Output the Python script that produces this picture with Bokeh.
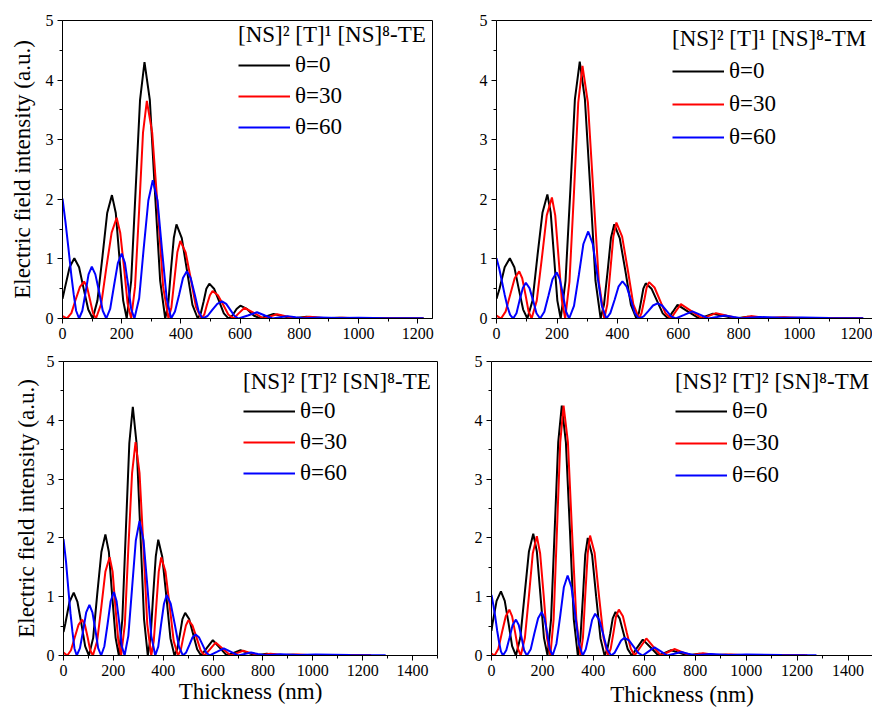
from bokeh.plotting import figure
from bokeh.models import Range1d, FixedTicker, Legend, LegendItem, LinearAxis
from bokeh.layouts import row, column
from bokeh.embed import file_html
from bokeh.resources import INLINE

FONT = "Liberation Serif"

# ---------------- data ----------------
angle_labels = ["θ=0", "θ=30", "θ=60"]
panel_titles = ["[NS]² [T]¹ [NS]⁸-TE", "[NS]² [T]¹ [NS]⁸-TM",
                "[NS]² [T]² [SN]⁸-TE", "[NS]² [T]² [SN]⁸-TM"]
x_ticks_top = [0, 200, 400, 600, 800, 1000, 1200]
x_minor_top = [100, 300, 500, 700, 900, 1100]
x_ticks_bottom = [0, 200, 400, 600, 800, 1000, 1200, 1400]
x_minor_bottom = [100, 300, 500, 700, 900, 1100, 1300, 1500]
y_ticks = [0, 1, 2, 3, 4, 5]
y_minor = [0.5, 1.5, 2.5, 3.5, 4.5]

# top-left: [NS]2 [T]1 [NS]8 - TE
tl_x0 = [0, 8, 24, 40, 56, 71, 87, 102, 118, 135, 151, 167, 180, 192, 205, 217,
         232, 247, 262, 277, 295, 312, 330, 347, 357, 366, 376, 385, 403, 421, 439, 457,
         467, 477, 486, 496, 512, 529, 545, 561, 574, 588, 601, 623, 646, 668,
         690, 713, 745, 775, 825, 880, 935, 990, 1100, 1220]
tl_y0 = [0.33, 0.51, 0.86, 1.01, 0.86, 0.51, 0.15, 0, 0.30, 1.04, 1.77, 2.07, 1.77, 1.04, 0.30, 0,
         0.63, 2.15, 3.67, 4.30, 3.67, 2.15, 0.63, 0, 0.23, 0.79, 1.35, 1.58, 1.35, 0.79, 0.23, 0,
         0.085, 0.29, 0.5, 0.585, 0.5, 0.29, 0.085, 0, 0.05, 0.16, 0.215, 0.16, 0.05, 0,
         0.04, 0.077, 0.04, 0, 0.03, 0.005, 0.012, 0.004, 0.003, 0.002]
tl_x30 = [0, 15, 30, 44, 59, 73, 83, 93, 103, 113, 131, 148, 166, 183, 195, 208, 220, 232,
          245, 259, 272, 285, 303, 322, 340, 358, 368, 378, 388, 398, 416, 434, 451, 469,
          479, 488, 498, 507, 525, 543, 560, 578, 596, 615, 648, 680,
          702, 725, 758, 790, 835, 890, 945, 1000, 1100, 1220]
tl_y30 = [0.04, 0, 0.09, 0.31, 0.53, 0.62, 0.53, 0.31, 0.09, 0, 0.25, 0.85, 1.44, 1.69, 1.44, 0.85, 0.25, 0,
          0.53, 1.83, 3.12, 3.65, 3.12, 1.83, 0.53, 0, 0.19, 0.65, 1.11, 1.30, 1.11, 0.65, 0.19, 0,
          0.067, 0.23, 0.39, 0.46, 0.39, 0.23, 0.067, 0, 0.09, 0.18, 0.09, 0,
          0.035, 0.07, 0.035, 0, 0.03, 0.005, 0.012, 0.004, 0.004, 0.002]
tl_x60 = [0, 10, 20, 30, 38, 46, 56, 67, 78, 88, 99, 111, 124, 136, 148,
          161, 174, 187, 200, 211, 222, 232, 243, 259, 274, 290, 305, 321, 336, 352, 367,
          380, 394, 407, 420, 433, 447, 460, 473, 490, 506, 523, 539, 553, 567, 581, 595,
          626, 657, 684, 710, 735, 760, 788, 815, 870, 930, 1000, 1100, 1220]
tl_y60 = [2.01, 1.62, 1.18, 0.72, 0.40, 0.13, 0, 0.13, 0.44, 0.74, 0.87, 0.74, 0.44, 0.13, 0,
          0.16, 0.55, 0.93, 1.09, 0.93, 0.55, 0.16, 0, 0.34, 1.16, 1.98, 2.32, 1.98, 1.16, 0.34, 0,
          0.116, 0.40, 0.68, 0.795, 0.68, 0.40, 0.116, 0, 0.042, 0.144, 0.245, 0.287, 0.245, 0.144, 0.042, 0,
          0.05, 0.105, 0.05, 0, 0.02, 0.04, 0.02, 0.003, 0.018, 0.008, 0.012, 0.006, 0.004]

# top-right: [NS]2 [T]1 [NS]8 - TM
tr_x0 = [0, 10, 27, 44, 59, 73, 88, 102, 119, 135, 152, 168, 179, 190, 201, 212,
         228, 244, 259, 275, 292, 310, 327, 344, 355, 367, 378, 389, 407, 426, 444, 462,
         470, 478, 485, 493, 512, 530, 549, 567, 582, 598, 634, 670,
         692, 715, 752, 790, 830, 880, 940, 1000, 1100, 1210]
tr_y0 = [0.33, 0.5, 0.86, 1.01, 0.86, 0.51, 0.15, 0, 0.30, 1.04, 1.78, 2.08, 1.78, 1.04, 0.30, 0,
         0.63, 2.16, 3.68, 4.31, 3.68, 2.16, 0.63, 0, 0.23, 0.79, 1.35, 1.58, 1.35, 0.79, 0.23, 0,
         0.086, 0.30, 0.50, 0.59, 0.50, 0.30, 0.086, 0, 0.11, 0.23, 0.11, 0,
         0.04, 0.08, 0.04, 0, 0.03, 0.005, 0.012, 0.004, 0.004, 0.002]
tr_x30 = [0, 15, 30, 45, 60, 75, 85, 96, 106, 116, 133, 150, 166, 183, 194, 205, 216, 227,
          241, 256, 270, 284, 302, 320, 338, 356, 366, 376, 386, 396, 415, 434, 452, 471,
          479, 488, 496, 504, 522, 540, 558, 576, 592, 609, 645, 680,
          702, 725, 762, 800, 840, 890, 950, 1010, 1100, 1210]
tr_y30 = [0.05, 0, 0.115, 0.395, 0.675, 0.79, 0.675, 0.395, 0.115, 0, 0.30, 1.02, 1.73, 2.03, 1.73, 1.02, 0.30, 0,
          0.62, 2.12, 3.62, 4.24, 3.62, 2.12, 0.62, 0, 0.235, 0.805, 1.375, 1.61, 1.375, 0.805, 0.235, 0,
          0.089, 0.305, 0.52, 0.61, 0.52, 0.305, 0.089, 0, 0.12, 0.24, 0.12, 0,
          0.045, 0.09, 0.045, 0, 0.04, 0.01, 0.02, 0.008, 0.006, 0.003]
tr_x60 = [0, 9, 18, 27, 36, 45, 55, 66, 76, 87, 97, 109, 121, 132, 144,
          158, 172, 185, 199, 209, 220, 230, 240, 256, 272, 287, 303, 318, 333, 348, 363,
          376, 390, 403, 416, 430, 444, 457, 471, 486, 502, 517, 532, 547, 562, 577, 592,
          620, 647, 674, 700, 728, 755, 783, 810, 870, 940, 1010, 1100, 1212]
tr_y60 = [1.01, 0.84, 0.62, 0.40, 0.20, 0.06, 0, 0.088, 0.30, 0.51, 0.60, 0.51, 0.30, 0.088, 0,
          0.113, 0.39, 0.66, 0.775, 0.66, 0.39, 0.113, 0, 0.213, 0.73, 1.25, 1.46, 1.25, 0.73, 0.213, 0,
          0.091, 0.31, 0.534, 0.625, 0.534, 0.31, 0.091, 0, 0.037, 0.128, 0.218, 0.255, 0.218, 0.128, 0.037, 0,
          0.06, 0.12, 0.06, 0, 0.025, 0.05, 0.025, 0.005, 0.025, 0.012, 0.018, 0.01, 0.006]

# bottom-left: [NS]2 [T]2 [SN]8 - TE
bl_x0 = [0, 7, 24, 41, 56, 72, 87, 102, 119, 135, 152, 168, 182, 195, 209, 222,
         236, 250, 264, 278, 293, 308, 323, 338, 349, 359, 370, 380, 396, 413, 429, 445,
         456, 467, 477, 488, 504, 520, 536, 552, 575, 599, 627, 655,
         682, 710, 740, 770, 815, 865, 920, 980, 1100, 1230]
bl_y0 = [0.40, 0.535, 0.91, 1.07, 0.91, 0.535, 0.156, 0, 0.30, 1.03, 1.76, 2.06, 1.76, 1.03, 0.30, 0,
         0.62, 2.12, 3.61, 4.23, 3.61, 2.12, 0.62, 0, 0.29, 0.985, 1.68, 1.97, 1.68, 0.985, 0.29, 0,
         0.106, 0.36, 0.62, 0.725, 0.62, 0.36, 0.106, 0, 0.13, 0.26, 0.13, 0,
         0.045, 0.09, 0.045, 0, 0.03, 0.005, 0.012, 0.004, 0.004, 0.002]
bl_x30 = [0, 15, 30, 45, 60, 75, 86, 97, 107, 118, 135, 152, 168, 185, 197, 208, 220, 231,
          246, 260, 275, 289, 305, 321, 336, 352, 362, 372, 382, 392, 409, 426, 442, 459,
          470, 480, 491, 501, 517, 534, 550, 566, 588, 610, 640, 670,
          695, 720, 752, 785, 830, 880, 940, 1000, 1100, 1234]
bl_y30 = [0.05, 0, 0.089, 0.305, 0.52, 0.61, 0.52, 0.305, 0.089, 0, 0.244, 0.835, 1.426, 1.67, 1.426, 0.835, 0.244, 0,
          0.53, 1.815, 3.10, 3.63, 3.10, 1.815, 0.53, 0, 0.244, 0.835, 1.426, 1.67, 1.426, 0.835, 0.244, 0,
          0.088, 0.30, 0.512, 0.60, 0.512, 0.30, 0.088, 0, 0.11, 0.22, 0.11, 0,
          0.04, 0.08, 0.04, 0, 0.03, 0.008, 0.015, 0.006, 0.005, 0.003]
bl_x60 = [0, 10, 20, 28, 36, 44, 53, 66, 79, 91, 104, 116, 128, 139, 151,
          164, 177, 189, 202, 213, 224, 234, 245, 260, 275, 290, 305, 321, 337, 352, 368,
          380, 391, 403, 414, 430, 447, 463, 479, 492, 505, 517, 530, 544, 558, 572, 586,
          615, 643, 672, 700, 726, 752, 780, 810, 870, 940, 1010, 1150, 1292]
bl_y60 = [1.98, 1.6, 1.1, 0.72, 0.4, 0.12, 0, 0.126, 0.43, 0.734, 0.86, 0.734, 0.43, 0.126, 0,
          0.158, 0.54, 0.922, 1.08, 0.922, 0.54, 0.158, 0, 0.334, 1.145, 1.956, 2.29, 1.956, 1.145, 0.334, 0,
          0.15, 0.515, 0.88, 1.03, 0.88, 0.515, 0.15, 0, 0.052, 0.18, 0.305, 0.357, 0.305, 0.18, 0.052, 0,
          0.06, 0.12, 0.06, 0, 0.025, 0.05, 0.025, 0.005, 0.022, 0.01, 0.015, 0.008, 0.005]

# bottom-right: [NS]2 [T]2 [SN]8 - TM
br_x0 = [0, 4, 20, 37, 52, 67, 81, 96, 113, 130, 147, 164, 178, 192, 206, 220,
         234, 248, 262, 276, 292, 308, 323, 339, 349, 359, 368, 378, 395, 411, 428, 444,
         455, 466, 476, 487, 503, 519, 535, 551, 572, 594, 625, 655,
         680, 705, 738, 770, 815, 865, 920, 980, 1100, 1230]
br_y0 = [0.42, 0.545, 0.93, 1.09, 0.93, 0.545, 0.16, 0, 0.30, 1.035, 1.77, 2.07, 1.77, 1.035, 0.30, 0,
         0.62, 2.125, 3.63, 4.25, 3.63, 2.125, 0.62, 0, 0.29, 1.0, 1.71, 2.0, 1.71, 1.0, 0.29, 0,
         0.108, 0.37, 0.632, 0.74, 0.632, 0.37, 0.108, 0, 0.135, 0.27, 0.135, 0,
         0.045, 0.09, 0.045, 0, 0.03, 0.006, 0.012, 0.004, 0.004, 0.002]
br_x30 = [0, 12, 27, 41, 56, 70, 81, 93, 104, 115, 131, 147, 162, 178, 191, 205, 218, 231,
          244, 257, 270, 283, 300, 316, 333, 349, 359, 368, 378, 387, 405, 422, 440, 457,
          468, 479, 489, 500, 516, 531, 547, 562, 585, 608, 636, 665,
          692, 718, 749, 780, 830, 880, 940, 1000, 1100, 1240]
br_y30 = [0.03, 0, 0.114, 0.39, 0.666, 0.78, 0.666, 0.39, 0.114, 0, 0.296, 1.015, 1.734, 2.03, 1.734, 1.015, 0.296, 0,
          0.62, 2.125, 3.63, 4.25, 3.63, 2.125, 0.62, 0, 0.298, 1.02, 1.742, 2.04, 1.742, 1.02, 0.298, 0,
          0.114, 0.39, 0.666, 0.78, 0.666, 0.39, 0.114, 0, 0.145, 0.29, 0.145, 0,
          0.055, 0.11, 0.055, 0, 0.04, 0.01, 0.018, 0.006, 0.005, 0.003]
br_x60 = [0, 8, 15, 22, 30, 37, 45, 58, 71, 83, 96, 107, 118, 128, 139,
          154, 168, 183, 197, 208, 219, 229, 240, 255, 270, 284, 299, 314, 329, 343, 358,
          370, 383, 395, 407, 423, 439, 454, 470, 483, 496, 509, 522, 540, 558, 576, 594,
          617, 640, 665, 690, 718, 745, 772, 800, 860, 930, 1000, 1140, 1276]
br_y60 = [1.03, 0.84, 0.65, 0.43, 0.22, 0.07, 0, 0.089, 0.305, 0.52, 0.61, 0.52, 0.305, 0.089, 0,
          0.108, 0.37, 0.632, 0.74, 0.632, 0.37, 0.108, 0, 0.2, 0.68, 1.16, 1.36, 1.16, 0.68, 0.2, 0,
          0.104, 0.355, 0.606, 0.71, 0.606, 0.355, 0.104, 0, 0.044, 0.15, 0.256, 0.30, 0.256, 0.15, 0.044, 0,
          0.07, 0.14, 0.07, 0, 0.03, 0.06, 0.03, 0.005, 0.025, 0.01, 0.016, 0.008, 0.005]

COLORS = ["black", "red", "blue"]
YLAB = "Electric field intensity (a.u.)"
XLAB = "Thickness (nm)"


def style_axis(ax):
    ax.axis_line_color = "black"
    ax.axis_line_width = 1
    ax.major_tick_line_color = "black"
    ax.minor_tick_line_color = "black"
    ax.major_tick_out = 5
    ax.major_tick_in = 0
    ax.minor_tick_out = 3
    ax.minor_tick_in = 0
    ax.major_label_text_font = FONT
    ax.major_label_text_font_size = "16px"
    ax.major_label_text_color = "black"
    ax.major_label_standoff = 4
    ax.axis_label_text_font = FONT
    ax.axis_label_text_font_size = "23px"
    ax.axis_label_text_font_style = "normal"
    ax.axis_label_text_color = "black"


def make_panel(title, series, xmax, xticks, xminor, width, height, mbl, mbr, mbt, mbb,
               leg_loc, spacing=5, t_stand=2, ystand=None, xstand=None, open_right=False):
    p = figure(width=width, height=height, x_range=Range1d(0, xmax), y_range=Range1d(0, 5),
               output_backend="svg", toolbar_location=None, title=None,
               min_border_left=mbl, min_border_right=mbr, min_border_top=mbt, min_border_bottom=mbb)
    p.xgrid.visible = False
    p.ygrid.visible = False
    p.background_fill_color = "white"
    p.border_fill_color = "white"
    p.xaxis.ticker = FixedTicker(ticks=xticks, minor_ticks=xminor)
    p.yaxis.ticker = FixedTicker(ticks=y_ticks, minor_ticks=y_minor)
    style_axis(p.xaxis[0])
    style_axis(p.yaxis[0])
    if ystand is not None:
        p.yaxis.axis_label = YLAB
        p.yaxis.axis_label_standoff = ystand
    if xstand is not None:
        p.xaxis.axis_label = XLAB
        p.xaxis.axis_label_standoff = xstand
    if open_right:
        p.outline_line_color = None
        top = LinearAxis(ticker=FixedTicker(ticks=[]), major_label_text_font_size="0px",
                         major_tick_out=0, minor_tick_out=0, major_label_standoff=0,
                         axis_line_color="black")
        p.add_layout(top, "above")
    else:
        p.outline_line_color = "black"
        p.outline_line_width = 1
        p.outline_line_alpha = 1.0

    items = []
    for (xs, ys), col, lab in zip(series, COLORS, angle_labels):
        r = p.line(xs, ys, line_color=col, line_width=2)
        items.append(LegendItem(label=lab, renderers=[r]))
    leg = Legend(items=items, title=title, location=leg_loc,
                 border_line_color=None, background_fill_alpha=0,
                 padding=0, margin=0, glyph_width=52, glyph_height=26,
                 label_height=26, spacing=spacing, label_standoff=5, title_standoff=t_stand,
                 title_text_font=FONT, title_text_font_size="23px",
                 title_text_font_style="normal", title_text_color="black",
                 label_text_font=FONT, label_text_font_size="23px", label_text_color="black")
    p.add_layout(leg)
    return p


p1 = make_panel(panel_titles[0], [(tl_x0, tl_y0), (tl_x30, tl_y30), (tl_x60, tl_y60)],
                1250, x_ticks_top, x_minor_top, 436, 353, 62, 4, 16, 35,
                leg_loc=(176, 178), spacing=5, t_stand=4, ystand=8)
p2 = make_panel(panel_titles[1], [(tr_x0, tr_y0), (tr_x30, tr_y30), (tr_x60, tr_y60)],
                1242, x_ticks_top, x_minor_top, 436, 353, 60, 0, 20, 32,
                leg_loc=(176, 168), spacing=7, t_stand=6, open_right=True)
p3 = make_panel(panel_titles[2], [(bl_x0, bl_y0), (bl_x30, bl_y30), (bl_x60, bl_y60)],
                1500, x_ticks_bottom, x_minor_bottom, 440, 367, 63, 3, 8, 61,
                leg_loc=(180, 169), spacing=5, t_stand=3, ystand=5, xstand=0)
p4 = make_panel(panel_titles[3], [(br_x0, br_y0), (br_x30, br_y30), (br_x60, br_y60)],
                1496, x_ticks_bottom, x_minor_bottom, 432, 367, 51, 0, 8, 65,
                leg_loc=(184, 167), spacing=6, t_stand=3, xstand=3, open_right=True)

layout = column(row(p1, p2), row(p3, p4))
open("out.html", "w").write(file_html(layout, INLINE))
